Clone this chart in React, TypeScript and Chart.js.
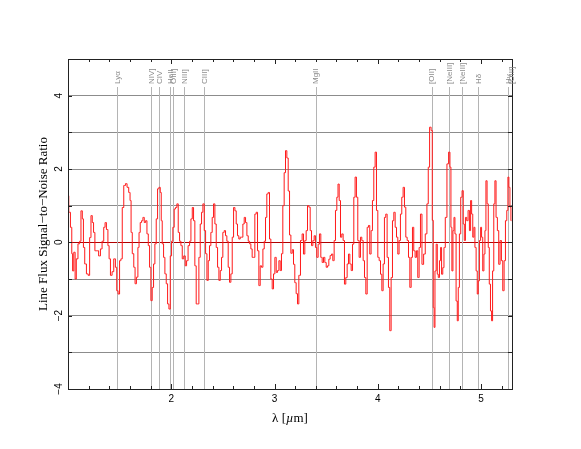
import React, { useEffect, useRef } from 'react';
import { Chart, registerables } from 'chart.js';
Chart.register(...registerables);

// Observed wavelength (µm) of each spectral bin and its line-flux S/N
const wavelength = [
  1.000, 1.015, 1.032, 1.041, 1.048, 1.064, 1.074, 1.087, 1.106, 1.119, 1.132, 1.145, 1.154, 1.170, 1.187, 1.203,
  1.216, 1.229, 1.241, 1.254, 1.267, 1.287, 1.306, 1.322, 1.338, 1.354, 1.364, 1.380, 1.393, 1.403, 1.419, 1.435,
  1.451, 1.467, 1.477, 1.493, 1.506, 1.519, 1.532, 1.548, 1.564, 1.580, 1.596, 1.606, 1.616, 1.629, 1.645, 1.654,
  1.671, 1.683, 1.693, 1.706, 1.719, 1.732, 1.745, 1.758, 1.771, 1.784, 1.796, 1.809, 1.822, 1.835, 1.848, 1.861,
  1.874, 1.887, 1.900, 1.906, 1.919, 1.932, 1.945, 1.958, 1.971, 1.984, 1.997, 2.009, 2.022, 2.035, 2.048, 2.061,
  2.074, 2.087, 2.100, 2.113, 2.129, 2.142, 2.155, 2.171, 2.184, 2.197, 2.210, 2.222, 2.235, 2.248, 2.261, 2.274,
  2.287, 2.300, 2.313, 2.326, 2.339, 2.352, 2.364, 2.377, 2.390, 2.403, 2.416, 2.429, 2.442, 2.455, 2.468, 2.481,
  2.493, 2.506, 2.519, 2.532, 2.545, 2.558, 2.571, 2.584, 2.597, 2.610, 2.623, 2.635, 2.648, 2.661, 2.674, 2.687,
  2.700, 2.713, 2.726, 2.739, 2.752, 2.765, 2.777, 2.790, 2.803, 2.816, 2.829, 2.842, 2.855, 2.868, 2.881, 2.894,
  2.907, 2.919, 2.932, 2.945, 2.958, 2.971, 2.984, 2.997, 3.010, 3.023, 3.036, 3.049, 3.061, 3.074, 3.087, 3.100,
  3.113, 3.126, 3.139, 3.152, 3.165, 3.178, 3.190, 3.203, 3.216, 3.229, 3.242, 3.261, 3.274, 3.287, 3.300, 3.313,
  3.326, 3.339, 3.352, 3.365, 3.378, 3.390, 3.403, 3.416, 3.429, 3.442, 3.455, 3.468, 3.481, 3.494, 3.507, 3.520,
  3.532, 3.545, 3.558, 3.571, 3.584, 3.597, 3.610, 3.620, 3.633, 3.645, 3.658, 3.671, 3.684, 3.697, 3.710, 3.723,
  3.736, 3.749, 3.762, 3.774, 3.787, 3.800, 3.813, 3.826, 3.839, 3.852, 3.865, 3.878, 3.891, 3.904, 3.916, 3.929,
  3.942, 3.955, 3.968, 3.981, 3.994, 4.007, 4.020, 4.033, 4.046, 4.058, 4.071, 4.084, 4.097, 4.110, 4.123, 4.136,
  4.149, 4.162, 4.175, 4.188, 4.200, 4.213, 4.226, 4.239, 4.252, 4.265, 4.278, 4.291, 4.304, 4.317, 4.330, 4.342,
  4.355, 4.368, 4.381, 4.394, 4.407, 4.420, 4.436, 4.452, 4.468, 4.484, 4.494, 4.510, 4.523, 4.533, 4.542, 4.549,
  4.559, 4.572, 4.581, 4.591, 4.604, 4.613, 4.623, 4.636, 4.646, 4.662, 4.678, 4.694, 4.704, 4.713, 4.723, 4.733,
  4.743, 4.752, 4.765, 4.775, 4.784, 4.797, 4.810, 4.823, 4.833, 4.843, 4.855, 4.868, 4.881, 4.894, 4.904, 4.914,
  4.926, 4.936, 4.946, 4.959, 4.968, 4.978, 4.991, 5.001, 5.010, 5.023, 5.033, 5.043, 5.052, 5.065, 5.075, 5.085,
  5.098, 5.107, 5.117, 5.130, 5.139, 5.152, 5.165, 5.178, 5.191, 5.204, 5.217, 5.230, 5.243, 5.256, 5.265, 5.275,
  5.285, 5.294,
];

const snr = [
  1.27, 0.82, 0.41, -0.31, -0.78, -0.27, -1.0, -0.45, -0.04, 0.03, 0.86, 0.64, -0.14, -0.59, -0.86, -0.9,
  0.13, 0.73, 0.54, 0.27, -0.23, -0.23, -0.37, -0.18, 0.03, 0.41, 0.54, 0.35, -0.09, -0.45, -0.9, -0.8,
  -0.45, -0.68, -1.32, -1.41, -0.5, -0.45, 0.95, 1.55, 1.6, 1.5, 1.36, 1.14, 0.27, -0.31, -0.68, -1.13,
  -0.95, -0.14, 0.27, 0.54, 0.59, 0.68, 0.54, 0.59, 0.23, -0.09, -0.68, -1.59, -1.23, -0.59, -0.04, 0.64,
  1.46, 1.5, 1.36, 0.59, -0.04, -0.41, -0.86, -1.13, -1.68, -1.82, -0.37, 0.03, 0.41, 0.91, 0.95, 1.05,
  0.27, 0.03, -0.09, -0.45, -0.37, -0.64, -0.5, -0.09, 0.03, 0.64, 0.95, 0.59, -0.64, -1.68, -1.68, -0.41,
  0.5, 0.82, 1.05, 0.32, -0.31, -1.04, -0.5, -0.09, 0.27, 0.68, 1.05, 0.5, -0.14, -0.68, -1.04, -0.77,
  -0.41, 0.27, 0.32, 0.18, 0.03, -0.68, -1.09, -0.86, 0.14, 0.95, 0.86, 0.5, 0.18, 0.09, 0.14, 0.14,
  0.5, 0.68, 0.54, 0.18, 0.03, -0.04, -0.18, -0.41, -0.41, 0.77, 0.82, -0.23, -1.18, -0.64, -0.68, -0.18,
  0.03, 0.68, 1.32, 1.36, 0.09, -1.0, -1.27, -0.86, -0.41, -0.82, -0.77, -0.5, -0.77, -0.31, 1.0, 1.9,
  2.5, 2.3, 1.4, 0.2, -0.3, -0.2, -0.6, -1.1, -1.4, -1.68, -0.9, 0.05, 0.23, -0.32, 0.05, 0.32,
  1.0, 0.96, 0.32, -0.09, 0.05, 0.18, -0.14, -0.41, -0.05, 0.23, -0.41, -0.55, -0.41, -0.55, -0.68, -0.64,
  -0.46, -0.36, -0.32, -0.5, 0.05, 0.87, 1.23, 1.59, 1.14, 0.14, 0.23, 0.05, -1.14, -0.96, -0.59, -0.32,
  -0.59, -0.77, -0.05, 1.23, 1.78, 1.23, 0.05, -0.41, 0.14, 0.05, -0.5, -0.96, -1.41, 0.41, 0.46, -0.32,
  0.32, 1.14, 2.05, 2.46, 0.87, -0.41, -0.5, -0.87, -1.32, -0.59, 0.68, 0.77, -0.41, -1.23, -2.41, -0.96,
  0.59, 0.82, 0.41, 0.14, -0.32, 0.05, 0.77, 1.23, 1.5, 0.96, 0.14, 0.05, -0.41, -1.23, -0.41, 0.41,
  -0.23, -0.41, -0.23, -0.96, -0.14, 0.77, -0.6, -0.32, 0.23, 1.05, 2.05, 3.14, 3.05, 0.6, -1.78, -2.32,
  -0.78, -0.05, -0.87, -0.96, -0.5, -0.14, -0.87, -0.69, -0.14, 0.68, 2.14, 2.46, 2.05, 0.41, -0.78, 0.32,
  0.68, 0.23, -1.6, -2.14, -1.23, 0.23, 1.23, 1.41, 0.5, 0.05, 0.68, 0.59, 0.87, 0.32, 1.14, 0.77,
  0.14, 0.41, -0.14, -0.78, -1.41, -1.05, 0.05, 0.41, 0.14, -0.78, -0.32, 0.32, 1.68, 1.05, -0.14, -1.14,
  -1.87, -2.14, -0.78, 1.05, 1.68, 0.68, 0.32, -0.6, 0.05, -0.5, -1.32, -0.5, 0.59, 0.87, 1.78, 1.5,
  0.96, 0.59,
];

// Emission-line markers
const lineNames = ['Lyα', 'NIV]', 'CIV', 'HeII', 'OIII]', 'NIII]', 'CIII]', 'MgII', '[OII]', '[NeIII]', '[NeIII]', 'Hδ', 'Hγ', '[OIII]'];
const lineWavelengths = [1.476, 1.804, 1.880, 1.991, 2.019, 2.125, 2.317, 3.398, 4.522, 4.692, 4.815, 4.975, 5.264, 5.296];

const xTickLabels = [2, 3, 4, 5];
const yTickLabels = [-4, -2, 0, 2, 4];
const xTitle = ['λ [', 'µ', 'm]'];
const yTitle = 'Line Flux Signal\u2212to\u2212Noise Ratio';

export default function App() {
  const ref = useRef<HTMLCanvasElement>(null);

  useEffect(() => {
    const canvas = ref.current!;
    const points = wavelength.map((x, i) => ({ x, y: snr[i] }));

    const overlay = {
      id: 'overlay',
      beforeDatasetsDraw(chart: any) {
        const { ctx, chartArea, scales } = chart;
        ctx.save();
        ctx.strokeStyle = '#b4b4b4';
        ctx.lineWidth = 1;
        lineWavelengths.forEach((w) => {
          const px = Math.round(scales.x.getPixelForValue(w)) + 0.5;
          ctx.beginPath();
          ctx.moveTo(px, 87);
          ctx.lineTo(px, chartArea.bottom);
          ctx.stroke();
        });
        ctx.restore();
      },
      afterDraw(chart: any) {
        const { ctx, chartArea, scales } = chart;
        const { left, right, top, bottom } = chartArea;
        ctx.save();
        // frame
        ctx.strokeStyle = '#222';
        ctx.lineWidth = 1;
        ctx.strokeRect(Math.round(left) + 0.5, Math.round(top) + 0.5, Math.round(right - left), Math.round(bottom - top));
        // x ticks (inward, top and bottom)
        ctx.beginPath();
        for (let k = 0; k <= 22; k++) {
          const v = 1 + k * 0.2;
          if (v > 5.3) break;
          const major = Math.abs(v - Math.round(v)) < 1e-6;
          const len = major ? 5 : 3;
          const px = Math.round(scales.x.getPixelForValue(v)) + 0.5;
          ctx.moveTo(px, bottom);
          ctx.lineTo(px, bottom - len);
          ctx.moveTo(px, top);
          ctx.lineTo(px, top + len);
        }
        // y ticks (inward, left and right)
        for (let v = -4; v <= 5; v++) {
          const py = Math.round(scales.y.getPixelForValue(v)) + 0.5;
          ctx.moveTo(left, py);
          ctx.lineTo(left + 4, py);
          ctx.moveTo(right, py);
          ctx.lineTo(right - 4, py);
        }
        ctx.stroke();

        // y tick labels (rotated)
        ctx.fillStyle = '#000';
        ctx.font = '10px "Liberation Sans", sans-serif';
        ctx.textAlign = 'center';
        ctx.textBaseline = 'middle';
        yTickLabels.forEach((v) => {
          const py = scales.y.getPixelForValue(v);
          ctx.save();
          ctx.translate(59, py);
          ctx.rotate(-Math.PI / 2);
          ctx.fillText(v < 0 ? '\u2212' + Math.abs(v) : String(v), 0, 0);
          ctx.restore();
        });

        // emission line labels
        ctx.fillStyle = '#8a8a8a';
        ctx.font = '8px "Liberation Sans", sans-serif';
        ctx.textAlign = 'left';
        ctx.textBaseline = 'middle';
        lineWavelengths.forEach((w, i) => {
          const px = scales.x.getPixelForValue(w);
          ctx.save();
          ctx.translate(px + 0.5, 84);
          ctx.rotate(-Math.PI / 2);
          ctx.fillText(lineNames[i], 0, 0);
          ctx.restore();
        });

        // x title with italic µ
        ctx.fillStyle = '#000';
        const fN = '13px "Liberation Serif", serif';
        const fI = 'italic 13px "Liberation Serif", serif';
        ctx.font = fN;
        const w0 = ctx.measureText(xTitle[0]).width;
        const w2 = ctx.measureText(xTitle[2]).width;
        ctx.font = fI;
        const w1 = ctx.measureText(xTitle[1]).width;
        let sx = (left + right) / 2 - (w0 + w1 + w2) / 2;
        ctx.textAlign = 'left';
        ctx.textBaseline = 'middle';
        ctx.font = fN;
        ctx.fillText(xTitle[0], sx, 419);
        sx += w0;
        ctx.font = fI;
        ctx.fillText(xTitle[1], sx, 419);
        sx += w1;
        ctx.font = fN;
        ctx.fillText(xTitle[2], sx, 419);

        // y title
        ctx.save();
        ctx.translate(44, (top + bottom) / 2);
        ctx.rotate(-Math.PI / 2);
        ctx.textAlign = 'center';
        ctx.font = '13px "Liberation Serif", serif';
        ctx.fillText(yTitle, 0, 0);
        ctx.restore();

        ctx.restore();
      },
    };

    const chart = new Chart(canvas, {
      type: 'line',
      data: {
        datasets: [
          {
            data: points,
            borderColor: '#ff1a1a',
            borderWidth: 1,
            pointRadius: 0,
            stepped: 'middle',
            fill: false,
          },
        ],
      },
      options: {
        animation: false,
        responsive: false,
        maintainAspectRatio: false,
        layout: { padding: { top: 59, right: 69, left: 0, bottom: 0 } },
        plugins: { legend: { display: false }, tooltip: { enabled: false } },
        scales: {
          x: {
            type: 'linear',
            min: 1,
            max: 5.3,
            afterFit: (s: any) => {
              s.height = 60;
            },
            afterBuildTicks: (s: any) => {
              s.ticks = xTickLabels.map((v) => ({ value: v }));
            },
            grid: { display: false, drawTicks: false },
            border: { display: false },
            ticks: {
              color: '#000',
              font: { family: '"Liberation Sans", sans-serif', size: 10 },
              padding: 4,
              maxRotation: 0,
              autoSkip: false,
              callback: (v: any) => String(v),
            },
          },
          y: {
            type: 'linear',
            min: -4,
            max: 5,
            afterFit: (s: any) => {
              s.width = 68;
            },
            ticks: { display: false, stepSize: 1 },
            grid: {
              drawTicks: false,
              color: (c: any) => (c.tick && c.tick.value === 0 ? '#b00000' : '#8c8c8c'),
            },
            border: { display: false },
          },
        },
      },
      plugins: [overlay],
    });
    return () => chart.destroy();
  }, []);

  return (
    <canvas
      ref={ref}
      width={581}
      height={449}
      style={{ position: 'absolute', left: 0, top: 0, width: 581, height: 449 }}
    />
  );
}
